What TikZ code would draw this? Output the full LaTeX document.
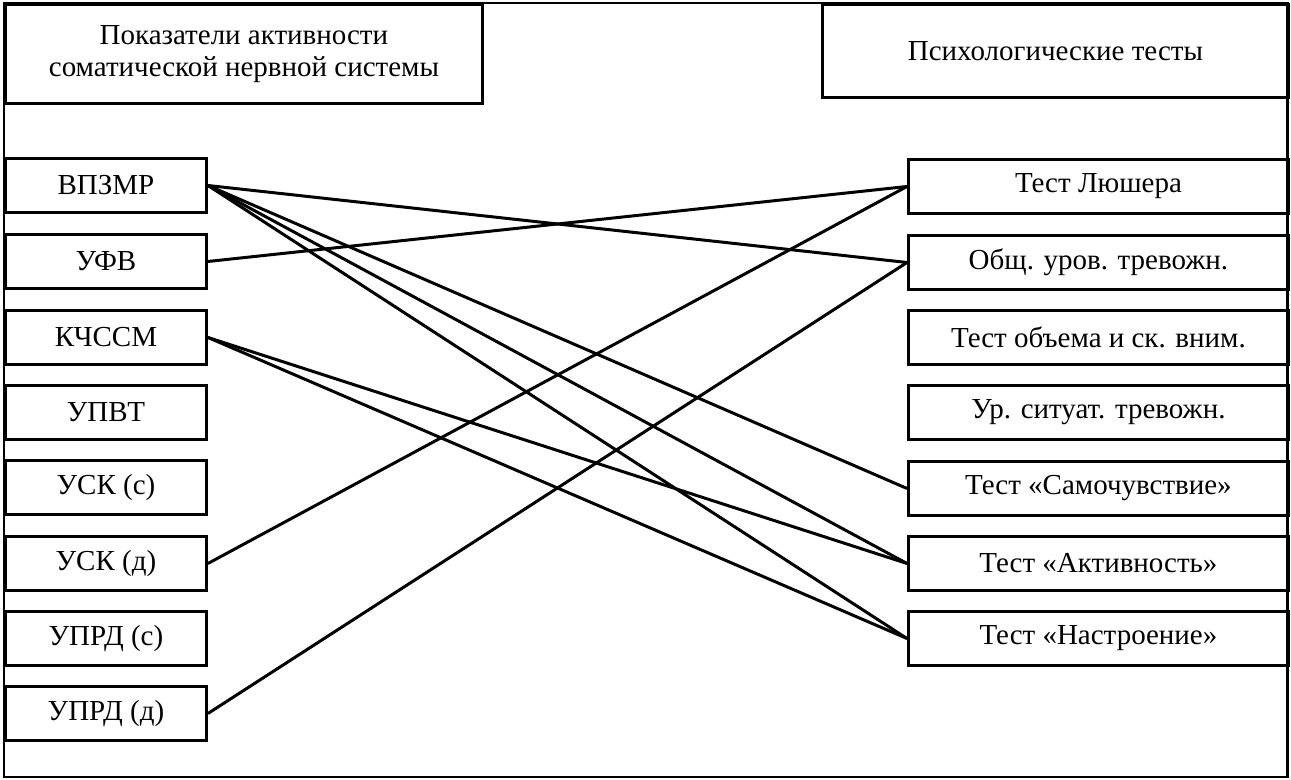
\documentclass[tikz,border=0pt]{standalone}
\usepackage{fontspec}
\setmainfont{Liberation Serif}
\begin{document}
\begin{tikzpicture}[x=0.02cm,y=-0.02cm,
  box/.style={draw, line width=1.7pt, inner sep=0pt, anchor=north west, font=\fontsize{16.5}{18.5}\selectfont, align=center},
  lbox/.style={box, minimum width=4.02cm, minimum height=1.08cm},
  rbox/.style={box, minimum width=7.6cm, minimum height=1.08cm},
  link/.style={line width=1.7pt}]
\useasboundingbox (0,0) rectangle (1291,780);
\draw[line width=1.7pt] (4,3) rectangle (1287,777);
\node[box, minimum width=9.54cm, minimum height=1.98cm] (hl) at (4,3) {Показатели активности\\соматической нервной системы};
\node[box, minimum width=9.32cm, minimum height=1.86cm] (hr) at (821,3) {Психологические тесты};
\node[lbox] (l1) at (4,157) {ВПЗМР};
\node[lbox] (l2) at (4,233) {УФВ};
\node[lbox] (l3) at (4,309) {КЧССМ};
\node[lbox] (l4) at (4,384) {УПВТ};
\node[lbox] (l5) at (4,459) {УСК (с)};
\node[lbox] (l6) at (4,535) {УСК (д)};
\node[lbox] (l7) at (4,610) {УПРД (с)};
\node[lbox] (l8) at (4,685) {УПРД (д)};
\node[rbox] (r1) at (907,158) {Тест Люшера};
\node[rbox] (r2) at (907,234) {Общ. уров. тревожн.};
\node[rbox] (r3) at (907,309) {Тест объема и ск. вним.};
\node[rbox] (r4) at (907,384) {Ур. ситуат. тревожн.};
\node[rbox] (r5) at (907,460) {Тест «Самочувствие»};
\node[rbox] (r6) at (907,535) {Тест «Активность»};
\node[rbox] (r7) at (907,610) {Тест «Настроение»};
\draw[link] (l1.east) -- (r2.west);
\draw[link] (l1.east) -- (r5.west);
\draw[link] (l1.east) -- (r6.west);
\draw[link] (l1.east) -- (r7.west);
\draw[link] (l2.east) -- (r1.west);
\draw[link] (l3.east) -- (r6.west);
\draw[link] (l3.east) -- (r7.west);
\draw[link] (l6.east) -- (r1.west);
\draw[link] (l8.east) -- (r2.west);
\end{tikzpicture}
\end{document}
